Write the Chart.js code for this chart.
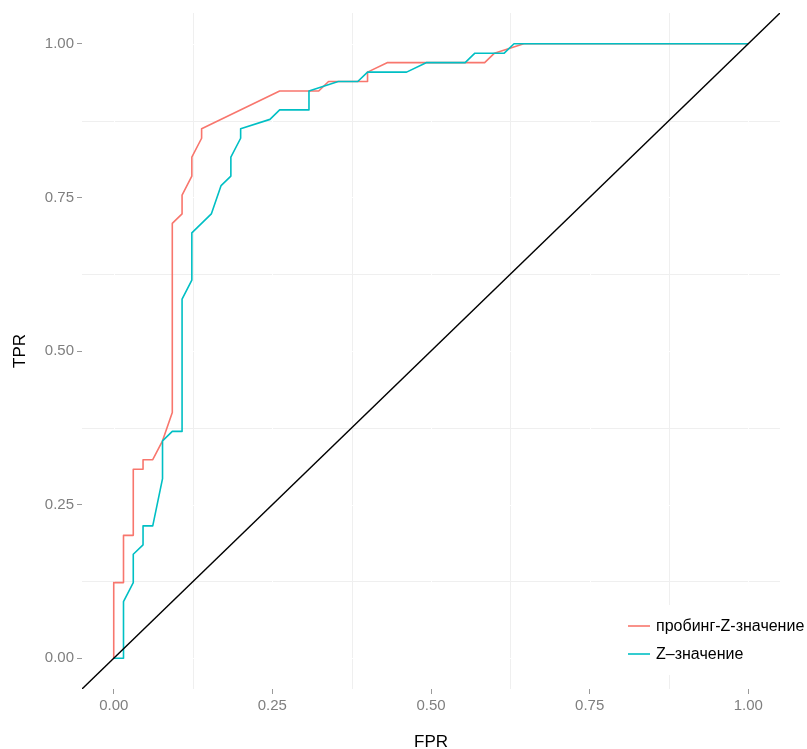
<!DOCTYPE html>
<html>
<head>
<meta charset="utf-8">
<script src="https://cdn.jsdelivr.net/npm/chart.js@4.4.1/dist/chart.umd.min.js"></script>
<style>
  html, body { margin: 0; padding: 0; background: #ffffff; }
  #wrap { width: 807px; height: 749px; }
</style>
</head>
<body>
<div id="wrap"><canvas id="roc" width="807" height="749"></canvas></div>
<script>
// ROC curves: false positive rate vs true positive rate
const seriesNames = ['пробинг-Z-значение', 'Z–значение'];
const seriesColors = ['#F8766D', '#00BFC4'];

const probingFpr = [0, 0, 0.0154, 0.0154, 0.0308, 0.0308, 0.0462, 0.0462, 0.0615, 0.0769,
  0.0923, 0.0923, 0.1077, 0.1077, 0.1231, 0.1231, 0.1385, 0.1385, 0.2615, 0.3231,
  0.3385, 0.4, 0.4, 0.4308, 0.5846, 0.6, 0.6462, 1];
const probingTpr = [0, 0.1231, 0.1231, 0.2, 0.2, 0.3077, 0.3077, 0.3231, 0.3231, 0.3538,
  0.4, 0.7077, 0.7231, 0.7538, 0.7846, 0.8154, 0.8462, 0.8615, 0.9231, 0.9231,
  0.9385, 0.9385, 0.9538, 0.9692, 0.9692, 0.9846, 1, 1];

const zFpr = [0, 0.0154, 0.0154, 0.0308, 0.0308, 0.0462, 0.0462, 0.0615, 0.0769, 0.0769,
  0.0923, 0.1077, 0.1077, 0.1231, 0.1231, 0.1538, 0.1692, 0.1846, 0.1846, 0.2,
  0.2, 0.2462, 0.2615, 0.3077, 0.3077, 0.3538, 0.3846, 0.4, 0.4615, 0.4923,
  0.5538, 0.5692, 0.6154, 0.6308, 1];
const zTpr = [0, 0, 0.0923, 0.1231, 0.1692, 0.1846, 0.2154, 0.2154, 0.2923, 0.3538,
  0.3692, 0.3692, 0.5846, 0.6154, 0.6923, 0.7231, 0.7692, 0.7846, 0.8154, 0.8462,
  0.8615, 0.8769, 0.8923, 0.8923, 0.9231, 0.9385, 0.9385, 0.9538, 0.9538, 0.9692,
  0.9692, 0.9846, 0.9846, 1, 1];

// chance line y = x across the whole panel
const diagFpr = [-0.05, 1.05];
const diagTpr = [-0.05, 1.05];

const majorTicks = [0, 0.25, 0.5, 0.75, 1];
const minorTicks = [0.125, 0.375, 0.625, 0.875];
const tickLabels = ['0.00', '0.25', '0.50', '0.75', '1.00'];

const FONT = '"Liberation Sans", Arial, Helvetica, sans-serif';

const toPoints = (xs, ys) => xs.map((v, i) => ({ x: v, y: ys[i] }));

// light minor grid, white major grid on top of it
const panelGrid = {
  id: 'panelGrid',
  beforeDatasetsDraw(chart) {
    const { ctx, chartArea: a, scales: { x, y } } = chart;
    const draw = (vals, color) => {
      ctx.strokeStyle = color;
      ctx.beginPath();
      for (const v of vals) {
        const px = Math.round(x.getPixelForValue(v)) + 0.5;
        ctx.moveTo(px, a.top); ctx.lineTo(px, a.bottom);
        const py = Math.round(y.getPixelForValue(v)) + 0.5;
        ctx.moveTo(a.left, py); ctx.lineTo(a.right, py);
      }
      ctx.stroke();
    };
    ctx.save();
    ctx.lineWidth = 1;
    draw(minorTicks, '#efefef');
    draw(majorTicks, '#ffffff');
    ctx.restore();
  }
};

// legend placed in the lower right corner of the panel
const cornerLegend = {
  id: 'cornerLegend',
  afterDraw(chart) {
    const { ctx } = chart;
    ctx.save();
    ctx.fillStyle = '#ffffff';
    ctx.fillRect(616, 605, 191, 70);
    ctx.font = '16px ' + FONT;
    ctx.textBaseline = 'middle';
    ctx.textAlign = 'left';
    const rows = [626, 654];
    seriesNames.forEach((name, i) => {
      ctx.strokeStyle = seriesColors[i];
      ctx.lineWidth = 1.6;
      ctx.beginPath();
      ctx.moveTo(628, rows[i]); ctx.lineTo(650, rows[i]);
      ctx.stroke();
      ctx.fillStyle = '#000000';
      ctx.fillText(name, 656, rows[i] + 1);
    });
    ctx.restore();
  }
};

const axisCommon = (title, size) => ({
  type: 'linear',
  min: -0.05,
  max: 1.05,
  afterBuildTicks: s => { s.ticks = majorTicks.map(v => ({ value: v })); },
  grid: { drawOnChartArea: false, drawTicks: true, tickLength: 5, tickColor: '#9a9a9a', lineWidth: 1 },
  border: { display: false },
  ticks: {
    color: '#7f7f7f',
    font: { family: FONT, size: 15 },
    padding: 3,
    autoSkip: false,
    maxRotation: 0,
    callback: (v, i) => tickLabels[i]
  },
  title: { display: true, text: title, color: '#000000', font: { family: FONT, size: 17, lineHeight: 1 } },
  afterFit: size
});

const xAxis = axisCommon('FPR', s => { s.height = 60; });
xAxis.title.padding = { top: 0, bottom: -1.5 };
const yAxis = axisCommon('TPR', s => { s.width = 82; });
yAxis.title.padding = { top: 12, bottom: 0 };

new Chart(document.getElementById('roc'), {
  type: 'scatter',
  data: {
    datasets: [
      {
        label: 'y = x',
        data: toPoints(diagFpr, diagTpr),
        showLine: true,
        borderColor: '#000000',
        borderWidth: 1.4,
        pointRadius: 0,
        order: 0
      },
      {
        label: seriesNames[1],
        data: toPoints(zFpr, zTpr),
        showLine: true,
        borderColor: seriesColors[1],
        borderWidth: 1.6,
        pointRadius: 0,
        order: 1
      },
      {
        label: seriesNames[0],
        data: toPoints(probingFpr, probingTpr),
        showLine: true,
        borderColor: seriesColors[0],
        borderWidth: 1.6,
        pointRadius: 0,
        order: 2
      }
    ]
  },
  options: {
    responsive: false,
    animation: false,
    devicePixelRatio: 1,
    layout: { padding: { top: 13, right: 27, bottom: 0, left: 0 } },
    plugins: { legend: { display: false }, tooltip: { enabled: false } },
    elements: { line: { tension: 0, borderJoinStyle: 'round', borderCapStyle: 'butt' } },
    scales: { x: xAxis, y: yAxis }
  },
  plugins: [panelGrid, cornerLegend]
});
</script>
</body>
</html>
